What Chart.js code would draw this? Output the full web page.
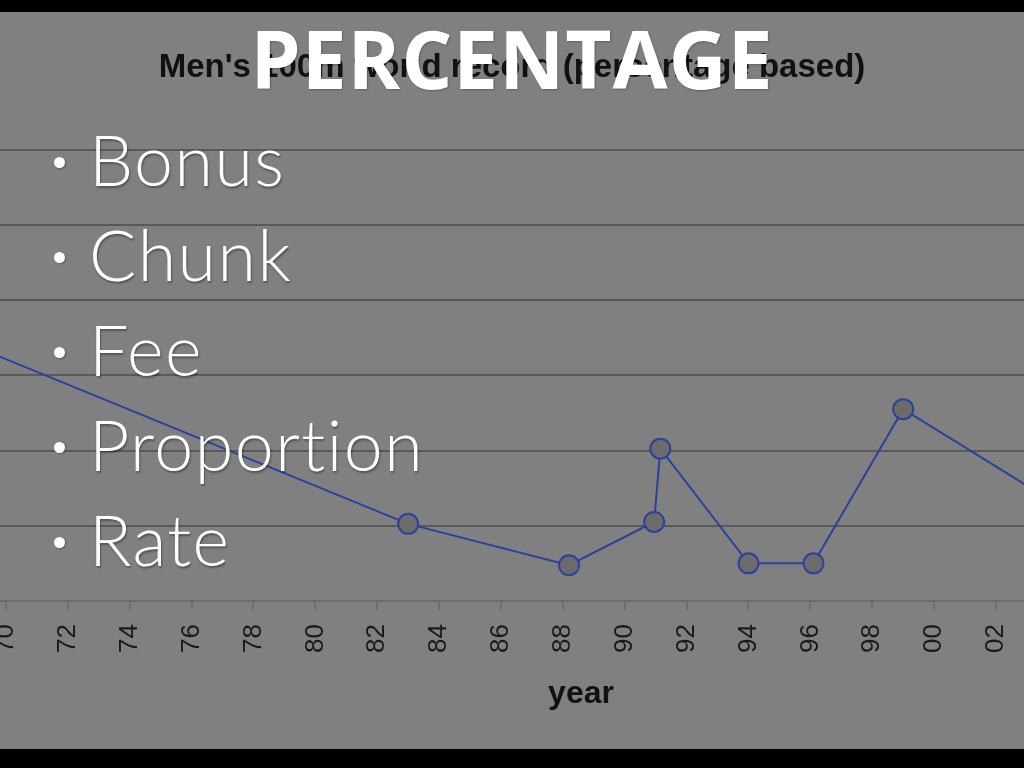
<!DOCTYPE html>
<html>
<head>
<meta charset="utf-8">
<title>Percentage</title>
<script src="https://cdn.jsdelivr.net/npm/chart.js@4.4.0/dist/chart.umd.min.js"></script>
<style>
    html, body { margin: 0; padding: 0; }
    body {
        width: 1024px; height: 768px; overflow: hidden;
        position: relative; background: #808080;
    }
    #recordChart { position: absolute; left: -300px; top: 0; }
    .bar { position: absolute; left: 0; width: 1024px; background: #000; }
    .bar.top { top: 0; height: 12px; }
    .bar.bottom { top: 749px; height: 19px; }
    .heading {
        position: absolute; left: 0; top: 17px; width: 1024px;
        margin: 0; text-align: center;
        font: 700 80px/81px "Open Sans", sans-serif;
        letter-spacing: 1px; color: #fff;
        text-shadow: 1px 1px 2px rgba(0,0,0,0.25);
    }
    .points {
        position: absolute; left: 0; top: 112px; margin: 0; padding: 0 0 0 89px;
        list-style: none;
        font: 300 70px/95px Lato, "Open Sans", sans-serif;
        letter-spacing: 1.4px;
        color: #fff; text-shadow: 1px 2px 2px rgba(0,0,0,0.35);
    }
    .points li { position: relative; height: 95px; white-space: nowrap; }
    .points li::before {
        content: ''; position: absolute; left: -35px; top: 45px;
        width: 11px; height: 11px; border-radius: 50%; background: #fff;
        box-shadow: 1px 1px 2px rgba(0,0,0,0.3);
    }
</style>
</head>
<body>
<canvas id="recordChart" width="1624" height="768"></canvas>
<div class="bar top"></div>
<div class="bar bottom"></div>
<h1 class="heading">PERCENTAGE</h1>
<ul class="points">
    <li>Bonus</li>
    <li>Chunk</li>
    <li>Fee</li>
    <li>Proportion</li>
    <li>Rate</li>
</ul>
<script>
// ── Data ────────────────────────────────────────────────────────────
var recordYears   = [1968, 1983.0, 1988.2, 1990.95, 1991.15, 1994.0, 1996.1, 1999.0, 2005.0];
var improvementPc = [0.71, 0.205, 0.095, 0.21, 0.405, 0.1, 0.1, 0.51, 0.205];
var tickYears     = [1968, 1970, 1972, 1974, 1976, 1978, 1980, 1982, 1984, 1986, 1988,
                     1990, 1992, 1994, 1996, 1998, 2000, 2002, 2004, 2006, 2008];

(function () {
    'use strict';

    function drawChart() {
        var canvas = document.getElementById('recordChart');
        if (!canvas) return;

        var points = recordYears.map(function (yr, i) {
            return { x: yr, y: improvementPc[i] };
        });

        new Chart(canvas, {
            type: 'line',
            data: {
                datasets: [{
                    data: points,
                    borderColor: '#2a429e',
                    borderWidth: 2,
                    pointRadius: 10,
                    pointBorderWidth: 2,
                    pointBackgroundColor: '#6b6b6b',
                    pointBorderColor: '#2a429e',
                    tension: 0
                }]
            },
            options: {
                responsive: false,
                animation: false,
                // symmetric padding keeps the chart title centred on the page,
                // the hidden y axis pushes the plot area right
                layout: { padding: { left: 102, right: 102, top: 0, bottom: 50.7 } },
                plugins: {
                    legend: { display: false },
                    tooltip: { enabled: false },
                    title: {
                        display: true,
                        text: "Men's 100m world record (percentage based)",
                        color: '#111',
                        font: { family: 'Liberation Sans, Arial, sans-serif', size: 33, weight: 'bold' },
                        padding: { top: 48, bottom: 62 }
                    }
                },
                scales: {
                    x: {
                        type: 'linear',
                        min: 1967.867,
                        max: 2009.305,
                        afterBuildTicks: function (axis) {
                            axis.ticks = tickYears.map(function (y) { return { value: y }; });
                        },
                        ticks: {
                            autoSkip: false,
                            minRotation: 90,
                            maxRotation: 90,
                            padding: 14,
                            color: '#1a1a1a',
                            font: { family: 'Liberation Sans, Arial, sans-serif', size: 26 },
                            callback: function (v) { return String(v % 100).padStart(2, '0'); }
                        },
                        grid: {
                            drawOnChartArea: false,
                            drawTicks: true,
                            tickLength: 9,
                            color: '#6e6e6e',
                            lineWidth: 2
                        },
                        border: { color: '#6e6e6e', width: 2 },
                        title: {
                            display: true,
                            text: 'year',
                            color: '#111',
                            font: { family: 'Liberation Sans, Arial, sans-serif', size: 32, weight: 'bold' },
                            padding: { top: 8, bottom: 4 }
                        }
                    },
                    y: {
                        min: 0,
                        max: 1.2,
                        afterFit: function (scale) { scale.width = 138; },
                        ticks: { display: false, stepSize: 0.2 },
                        grid: { color: '#595959', lineWidth: 2, drawTicks: false },
                        border: { display: false }
                    }
                }
            }
        });
    }

    document.addEventListener('DOMContentLoaded', drawChart);
})();
</script>
</body>
</html>
